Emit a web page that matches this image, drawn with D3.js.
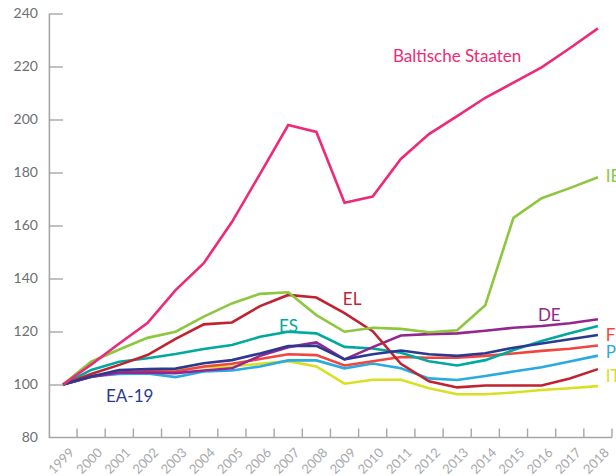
<!DOCTYPE html>
<html><head><meta charset="utf-8">
<script src="https://cdn.jsdelivr.net/npm/d3@7"></script>
<style>
html,body{margin:0;padding:0;background:#fff;}
svg{display:block;font-family:Lato, "Open Sans", sans-serif;}
</style></head>
<body>
<svg id="c" width="616" height="476"></svg>
<script>
const years = [1999,2000,2001,2002,2003,2004,2005,2006,2007,2008,2009,2010,2011,2012,2013,2014,2015,2016,2017,2018];
const yTicks = [80,100,120,140,160,180,200,220,240];

const baltic = [100,107.5,115.5,123.2,135.6,145.8,161.3,179.5,197.9,195.3,168.6,170.9,185.1,194.5,201.3,208.2,213.9,219.7,226.9,234.4];
const ie     = [100,108.6,113.2,117.6,119.9,125.6,130.6,134.2,134.8,126.2,119.9,121.4,121.0,119.7,120.5,129.9,162.9,170.3,174.1,178.2];
const el     = [100,104.0,107.4,111.1,117.2,122.7,123.4,129.6,133.8,132.8,126.9,120.1,107.8,101.2,98.9,99.6,99.6,99.6,102.3,105.8];
const es     = [100,105.5,108.6,109.9,111.5,113.4,114.9,118.0,119.9,119.3,114.2,113.6,112.0,108.8,107.2,109.2,113.0,116.4,119.3,122.1];
const ea19   = [100,103.0,105.5,105.8,106.0,108.0,109.2,111.7,114.5,114.6,109.5,111.4,112.8,111.4,110.8,111.8,113.9,115.5,117.1,118.7];
const de     = [100,102.8,104.5,104.5,104.3,105.3,106.1,110.8,114.1,115.9,109.5,114.1,118.5,119.0,119.3,120.3,121.4,122.1,123.1,124.6];
const fr     = [100,103.0,104.5,105.0,104.9,106.8,107.8,109.6,111.4,111.1,107.2,108.8,110.4,110.1,110.1,110.8,111.7,112.7,113.5,114.7];
const pt     = [100,103.0,104.0,104.2,102.8,104.9,105.3,106.8,109.1,109.1,106.1,107.9,106.1,102.3,101.7,103.2,104.9,106.5,108.7,110.9];
const it     = [100,103.0,104.5,104.8,105.5,106.5,106.8,107.8,108.8,106.8,100.3,101.8,101.8,98.6,96.3,96.3,97.0,97.9,98.6,99.4];

const seriesNames = ["IT","PT","FR","ES","DE","EL","EA-19","IE","Baltische Staaten"];
const seriesValues = [it,pt,fr,es,de,el,ea19,ie,baltic];
const seriesColors = ["#d9e021","#29abe2","#f0463f","#00a99d","#93278f","#c1222f","#2b3990","#8dc63f","#ed2a78"];
// label anchor positions in data units (year, value)
const labelYear  = [2018.28,2018.28,2018.28,2006.67,2015.87,2008.94,2000.53,2018.28,2010.72];
const labelValue = [101,110,116.4,119.8,123.8,130,93.4,176.4,221.7];

const svg = d3.select("#c");
const x = d3.scaleLinear().domain([1998.5, 2018.5]).range([48.9, 612]);
const y = d3.scaleLinear().domain([80, 240]).range([437.5, 13.5]);
const axisColor = "#a6a6a6";

// y axis
const yAxis = svg.append("g").attr("transform","translate(48.9,0)")
  .call(d3.axisLeft(y).tickValues(yTicks).tickSizeInner(-14).tickSizeOuter(0).tickPadding(11));
yAxis.select(".domain").attr("stroke",axisColor).attr("stroke-width",1.6);
yAxis.selectAll(".tick line").attr("stroke",axisColor).attr("stroke-width",1.4);
yAxis.selectAll(".tick").filter(d=>d===80).select("line").remove();
yAxis.selectAll("text").attr("fill","#6d6e71").attr("font-size",14).attr("font-family","Lato, sans-serif");

// x axis
const boundaries = d3.range(years.length+1).map(i=>1998.5+i);
const xg = svg.append("g");
xg.append("line").attr("x1",x(1998.5)).attr("x2",x(2018.5)).attr("y1",y(80)).attr("y2",y(80))
  .attr("stroke",axisColor).attr("stroke-width",1.6);
xg.selectAll("line.t").data(boundaries.slice(1)).join("line").attr("class","t")
  .attr("x1",d=>x(d)).attr("x2",d=>x(d)).attr("y1",y(80)).attr("y2",y(80)-9)
  .attr("stroke",axisColor).attr("stroke-width",1.4);
xg.selectAll("text").data(years).join("text")
  .attr("transform",d=>`translate(${x(d)+12},${y(80)+16}) rotate(-45)`)
  .attr("text-anchor","end").attr("font-size",13).attr("fill","#a7a9ac")
  .text(d=>d);

// lines
const line = d3.line().x((d,i)=>x(years[i])).y(d=>y(d));
svg.append("g").selectAll("path").data(seriesValues).join("path")
  .attr("d",d=>line(d)).attr("fill","none")
  .attr("stroke",(d,i)=>seriesColors[i]).attr("stroke-width",2.6)
  .attr("stroke-linejoin","miter");

// labels
svg.append("g").selectAll("text").data(seriesNames).join("text")
  .attr("x",(d,i)=>x(labelYear[i])).attr("y",(d,i)=>y(labelValue[i]))
  .attr("fill",(d,i)=>seriesColors[i]).attr("font-size",17)
  .text(d=>d);
</script>
</body></html>
